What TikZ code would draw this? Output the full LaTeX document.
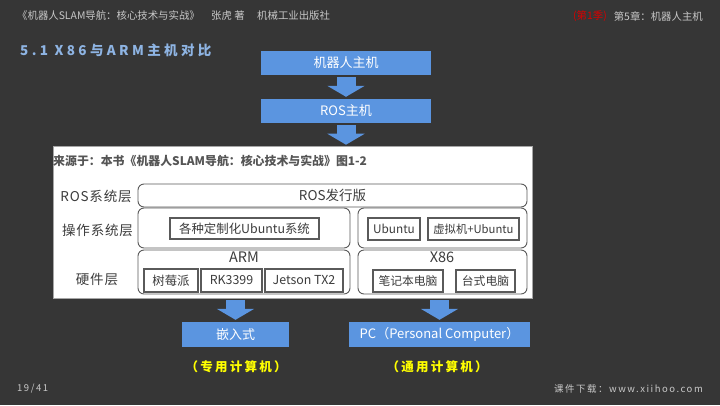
\documentclass[tikz,border=0pt]{standalone}
\usepackage{fontspec}
\setmainfont{Noto Sans CJK SC}
\newfontfamily\ttlfont[LetterSpace=25]{Noto Sans CJK SC}
\newfontfamily\yelfont[LetterSpace=18]{Noto Sans CJK SC}
\newfontfamily\footfont[LetterSpace=16]{Noto Sans CJK SC}
\newfontfamily\lblfont[LetterSpace=6]{Noto Sans CJK SC}
\usetikzlibrary{arrows.meta,calc}
\definecolor{bg}{HTML}{363636}
\definecolor{hdrgray}{HTML}{C8C8C8}
\definecolor{ttlblue}{HTML}{8EB4E3}
\definecolor{boxblue}{HTML}{5B95E0}
\definecolor{figtext}{HTML}{3C3C3C}
\definecolor{srctext}{HTML}{555555}
\definecolor{linegray}{HTML}{5A5A5A}
\definecolor{seasonred}{HTML}{D80000}
\definecolor{yel}{HTML}{FFFF00}
\tikzset{
  hdr/.style={inner sep=0pt, text=hdrgray, font=\fontsize{10.4}{12}\selectfont},
  bluebox/.style={fill=boxblue, text=white, inner sep=0pt, font=\fontsize{13}{15}\selectfont},
  blockarrow/.style={draw=boxblue, line width=19pt, -{Triangle[width=37pt,length=11pt]}},
  rowlabel/.style={inner sep=0pt, text=figtext, font=\lblfont\fontsize{13.5}{15}\selectfont},
  cont/.style={draw=linegray, line width=0.9pt, rounded corners=6pt, inner sep=0pt, text=figtext, font=\fontsize{13.5}{15}\selectfont},
  inbox/.style={draw=linegray, line width=1.1pt, inner sep=0pt, text=figtext, font=\fontsize{12.4}{14}\selectfont},
  yellab/.style={inner sep=0pt, text=yel, font=\yelfont\bfseries\fontsize{12.5}{14}\selectfont},
  footer/.style={inner sep=0pt, text=hdrgray, font=\footfont\fontsize{9.5}{11}\selectfont}
}
\begin{document}
\begin{tikzpicture}[x=1pt,y=-1pt]
\fill[bg] (0,0) rectangle (720,405);
\useasboundingbox (0,0) rectangle (720,405);

% header
\node[hdr, anchor=west] (book) at (17,16) {《机器人SLAM导航：核心技术与实战》};
\node[hdr, anchor=west] (author) at (211,16) {张虎 著};
\node[hdr, anchor=west] (pub) at (257,16) {机械工业出版社};
\node[hdr, anchor=east] (chap) at (703,16) {第5章：机器人主机};
\node[hdr, anchor=east, text=seasonred] (season) at (607,16) {(第1季)};

% title
\node[anchor=west, inner sep=0pt, text=ttlblue, font=\ttlfont\bfseries\fontsize{13.5}{16}\selectfont] (title) at (20,50) {5.1 X86与ARM主机对比};

% top boxes
\node[bluebox, minimum width=170pt, minimum height=24pt] (robot) at (346,63) {机器人主机};
\node[bluebox, minimum width=170pt, minimum height=24pt] (ros) at (346,111) {ROS主机};

% image
\node[draw=gray!70, line width=0.6pt, fill=white, minimum width=479pt, minimum height=152pt, inner sep=0pt] (img) at (292.5,222) {};
\node[anchor=west, inner sep=0pt, text=srctext, font=\bfseries\fontsize{11.9}{14}\selectfont] (src) at (53,161) {来源于：本书《机器人SLAM导航：核心技术与实战》图1-2};

\node[rowlabel] (l1) at (96,196) {ROS系统层};
\node[rowlabel] (l2) at (97.5,230) {操作系统层};
\node[rowlabel] (l3) at (97,279) {硬件层};

\node[cont, minimum width=389pt, minimum height=23pt] (rosd) at (332.5,195.5) {ROS发行版};
\node[cont, minimum width=212pt, minimum height=40pt] (los) at (244,228) {};
\node[cont, minimum width=169pt, minimum height=40pt] (ros2) at (442.5,228) {};
\node[cont, minimum width=212pt, minimum height=44pt] (lhw) at (244,272) {};
\node[cont, minimum width=169pt, minimum height=44pt] (rhw) at (442.5,272) {};

\node[inbox, minimum width=149pt, minimum height=21pt] (custom) at (244.5,228.5) {各种定制化Ubuntu系统};
\node[inbox, minimum width=52pt, minimum height=22pt, font=\fontsize{11.8}{14}\selectfont] (ubuntu) at (394,229) {Ubuntu};
\node[inbox, minimum width=91pt, minimum height=22pt, font=\fontsize{11.3}{14}\selectfont] (vm) at (473.5,229) {虚拟机+Ubuntu};

\node[inner sep=0pt, text=figtext, font=\fontsize{14.5}{16}\selectfont] (arm) at (244,257) {ARM};
\node[inner sep=0pt, text=figtext, font=\fontsize{14.5}{16}\selectfont] (x86) at (442,257) {X86};

\node[inbox, minimum width=54pt, minimum height=23pt] (pi) at (171,280.5) {树莓派};
\node[inbox, minimum width=61pt, minimum height=23pt] (rk) at (231.5,280.5) {RK3399};
\node[inbox, minimum width=78pt, minimum height=23pt] (jet) at (304,280.5) {Jetson TX2};
\node[inbox, minimum width=70pt, minimum height=22pt, font=\fontsize{11.8}{14}\selectfont] (lap) at (408,281) {笔记本电脑};
\node[inbox, minimum width=59pt, minimum height=22pt, font=\fontsize{11.8}{14}\selectfont] (desk) at (485.5,281) {台式电脑};

% bottom boxes
\node[bluebox, minimum width=107pt, minimum height=25pt] (emb) at (235.5,334.5) {嵌入式};
\node[bluebox, minimum width=181pt, minimum height=25pt] (pc) at (439.5,334.5) {PC（Personal Computer）};

\node[yellab] (y1) at (236,367) {（专用计算机）};
\node[yellab] (y2) at (437,367) {（通用计算机）};

% arrows
\draw[blockarrow, shorten <=2pt, shorten >=2pt] (robot.south) -- (ros.north);
\draw[blockarrow, shorten <=2pt, shorten >=1pt] (ros.south) -- (img.north -| ros.south);
\draw[blockarrow, shorten <=2pt, shorten >=2pt] (img.south -| emb.north) -- (emb.north);
\draw[blockarrow, shorten <=2pt, shorten >=2pt] (img.south -| pc.north) -- (pc.north);

% footer
\node[footer, anchor=west] (page) at (17,389) {19/41};
\node[footer, anchor=east] (site) at (703,389) {课件下载：www.xiihoo.com};
\end{tikzpicture}
\end{document}
